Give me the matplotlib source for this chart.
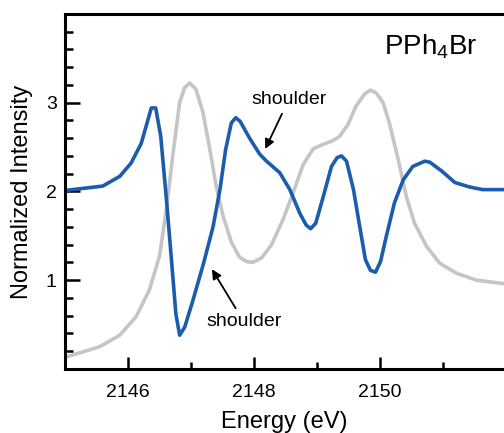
import matplotlib
matplotlib.use("Agg")
import matplotlib.pyplot as plt
from matplotlib.ticker import MultipleLocator

plt.rcParams['font.family'] = ['Liberation Sans', 'DejaVu Sans']
plt.rcParams['mathtext.fontset'] = 'custom'
plt.rcParams['mathtext.rm'] = 'Liberation Sans'

# derivative-like spectrum (blue), offset by 2
blue_e = [2145.0, 2145.60, 2145.87, 2146.05, 2146.21, 2146.37, 2146.44, 2146.52,
          2146.61, 2146.69, 2146.76, 2146.82, 2146.90, 2147.03, 2147.20, 2147.35,
          2147.46, 2147.55, 2147.64, 2147.71, 2147.78, 2147.93, 2148.09, 2148.20,
          2148.41, 2148.57, 2148.73, 2148.83, 2148.90, 2148.98, 2149.10, 2149.23,
          2149.32, 2149.39, 2149.47, 2149.58, 2149.68, 2149.77, 2149.85, 2149.93,
          2150.01, 2150.10, 2150.23, 2150.37, 2150.52, 2150.71, 2150.79, 2150.98,
          2151.19, 2151.42, 2151.63, 2151.97]
blue_i = [2.01, 2.06, 2.17, 2.32, 2.54, 2.94, 2.94, 2.62,
          1.91, 1.23, 0.62, 0.38, 0.47, 0.77, 1.19, 1.60,
          2.02, 2.47, 2.77, 2.83, 2.79, 2.60, 2.42, 2.34,
          2.21, 2.02, 1.75, 1.62, 1.58, 1.64, 1.94, 2.28,
          2.38, 2.40, 2.34, 2.02, 1.60, 1.23, 1.11, 1.09,
          1.21, 1.49, 1.87, 2.13, 2.28, 2.34, 2.33, 2.23,
          2.10, 2.05, 2.02, 2.02]

# absorption spectrum (grey)
grey_e = [2145.0, 2145.55, 2145.87, 2146.13, 2146.34, 2146.50, 2146.61, 2146.71,
          2146.82, 2146.90, 2146.98, 2147.08, 2147.19, 2147.30, 2147.40, 2147.51,
          2147.64, 2147.77, 2147.88, 2147.98, 2148.12, 2148.28, 2148.46, 2148.62,
          2148.78, 2148.94, 2149.10, 2149.25, 2149.36, 2149.49, 2149.62, 2149.76,
          2149.85, 2149.94, 2150.05, 2150.15, 2150.29, 2150.42, 2150.55, 2150.74,
          2150.95, 2151.21, 2151.53, 2151.97]
grey_i = [0.13, 0.25, 0.38, 0.59, 0.89, 1.27, 1.80, 2.40,
          3.00, 3.17, 3.22, 3.15, 2.89, 2.47, 2.06, 1.72,
          1.43, 1.26, 1.21, 1.20, 1.25, 1.40, 1.68, 1.98,
          2.30, 2.48, 2.53, 2.57, 2.62, 2.75, 2.96, 3.10,
          3.14, 3.11, 3.00, 2.77, 2.36, 1.94, 1.64, 1.38,
          1.19, 1.08, 1.00, 0.96]

fig = plt.figure(figsize=(5.04, 4.33), dpi=100)
ax = fig.add_axes([0.129, 0.148, 0.871, 0.820])

ax.plot(grey_e, grey_i, color='#c3c5c7', lw=2.6, solid_joinstyle='round')
ax.plot(blue_e, blue_i, color='#1b5cad', lw=2.6, solid_joinstyle='round')

ax.set_xlim(2145.0, 2151.97)
ax.set_ylim(0, 4)

ax.xaxis.set_major_locator(MultipleLocator(2))
ax.xaxis.set_minor_locator(MultipleLocator(1))
ax.yaxis.set_major_locator(MultipleLocator(1))
ax.yaxis.set_minor_locator(MultipleLocator(0.2))
ax.set_yticks([1, 2, 3])

ax.spines['right'].set_visible(False)
for s in ['left', 'bottom', 'top']:
    ax.spines[s].set_linewidth(2.2)

ax.tick_params(which='both', direction='in', width=1.8, labelsize=14)
ax.tick_params(axis='x', which='major', length=9, pad=11)
ax.tick_params(axis='x', which='minor', length=5)
ax.tick_params(axis='y', which='major', length=11, pad=6)
ax.tick_params(axis='y', which='minor', length=6)
ax.tick_params(top=False, right=False)

ax.set_xlabel('Energy (eV)', fontsize=17)
ax.set_ylabel('Normalized Intensity', fontsize=17)
ax.xaxis.set_label_coords(0.5, -0.118)
ax.yaxis.set_label_coords(-0.073, 0.5)

ax.text(2150.06, 3.55, r'PPh$_\mathregular{4}$Br', fontsize=20)

arrow = dict(arrowstyle='-|>', color='black', lw=1.3, mutation_scale=14)
ax.annotate('shoulder', xy=(2148.16, 2.45), xytext=(2148.55, 3.03),
            fontsize=14, ha='center', va='center', arrowprops=arrow)
ax.annotate('shoulder', xy=(2147.31, 1.15), xytext=(2147.84, 0.53),
            fontsize=14, ha='center', va='center', arrowprops=arrow)

fig.savefig('out.png', dpi=100)
